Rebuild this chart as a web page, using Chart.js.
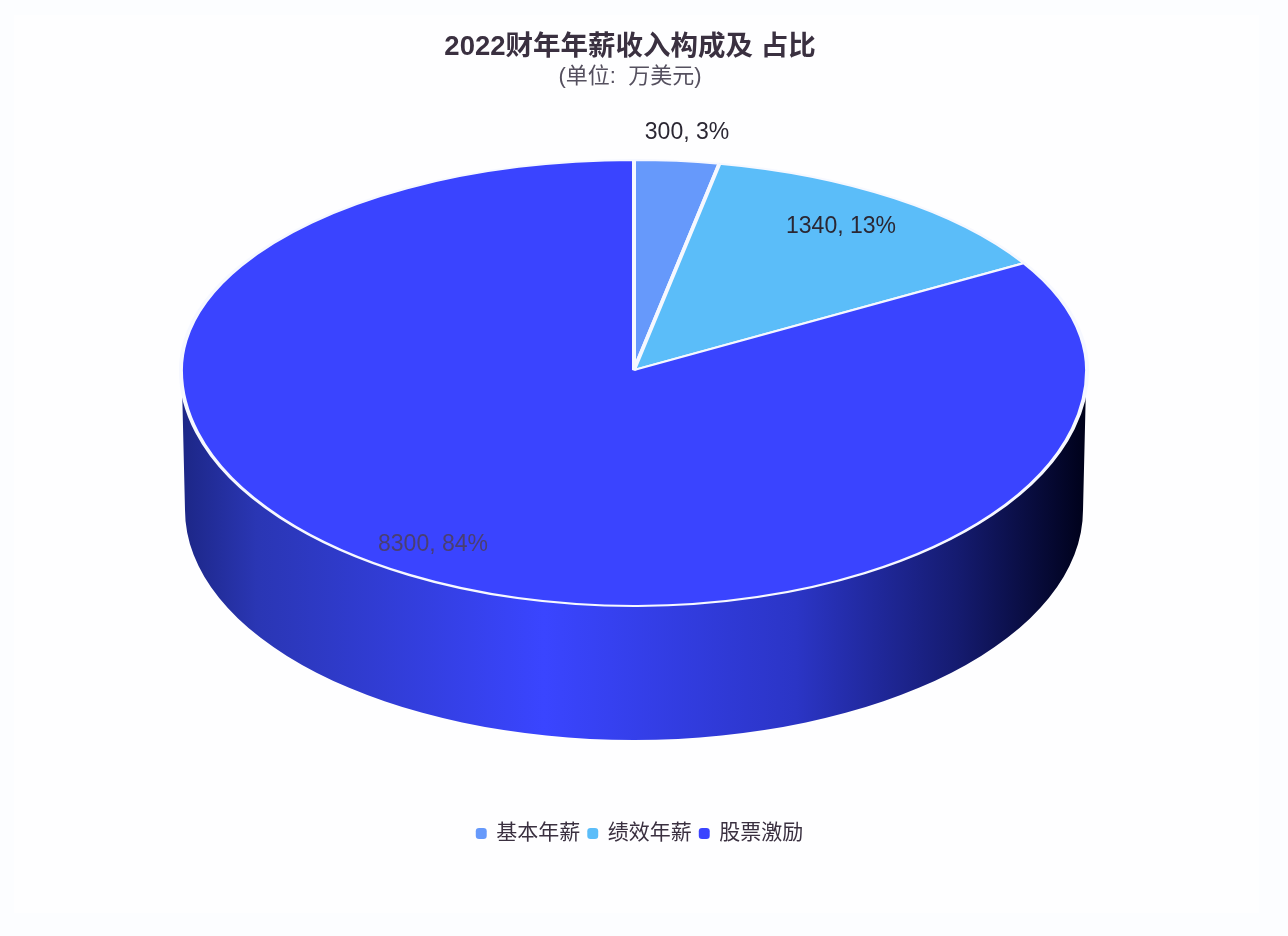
<!DOCTYPE html>
<html>
<head>
<meta charset="utf-8">
<title>2022财年年薪收入构成及占比</title>
<script src="https://cdn.jsdelivr.net/npm/chart.js@4/dist/chart.umd.min.js"></script>
<style>
    body { margin: 0; background: #fcfdff; }
    canvas { display: block; }
</style>
</head>
<body>
<canvas id="payChart" width="1288" height="936"></canvas>
<script>
// Data
const categories = ['基本年薪', '绩效年薪', '股票激励'];
const payValues = [300, 1340, 8300];
const sliceColors = ['#6699fb', '#5bbdf9', '#3a44ff'];

// Where the value labels sit, as [x, y] on the page
const labelSpots = [[687, 133], [841, 227], [433, 545]];
const labelColors = ['#2b2733', '#2b2733', '#4a3f70'];

// The fake 3D look: flat pie squashed around an apex, plus a side wall
const apex = { x: 634, y: 370 };
const pieRadius = 453;
const squashTop = 210 / pieRadius;
const squashBottom = 236 / pieRadius;
const wall = { cy: 510, rx: 449, ry: 230 };

const fontStack = '"Liberation Sans", "Noto Sans CJK SC", sans-serif';
const total = payValues.reduce((a, b) => a + b, 0);

const pagePlugin = {
    id: 'page',
    beforeDraw(chart) {
        const ctx = chart.ctx;
        ctx.save();
        ctx.fillStyle = '#fcfdff';
        ctx.fillRect(0, 0, chart.width, chart.height);
        ctx.fillStyle = '#fefeff';
        ctx.fillRect(14, 15, 1245, 898);
        ctx.restore();
    }
};

function drawWall(ctx) {
    const grad = ctx.createLinearGradient(apex.x - wall.rx, 0, apex.x + wall.rx, 0);
    grad.addColorStop(0, '#1d2788');
    grad.addColorStop(0.08, '#2a36b4');
    grad.addColorStop(0.4, '#3a45ff');
    grad.addColorStop(0.68, '#2b35c6');
    grad.addColorStop(0.86, '#151b70');
    grad.addColorStop(1, '#00021c');

    ctx.save();
    ctx.beginPath();
    ctx.moveTo(apex.x - pieRadius + 1, apex.y + 15);
    ctx.lineTo(apex.x - wall.rx, wall.cy);
    ctx.ellipse(apex.x, wall.cy, wall.rx, wall.ry, 0, Math.PI, 0, true);
    ctx.lineTo(apex.x + pieRadius - 1, apex.y + 15);
    ctx.closePath();
    ctx.fillStyle = grad;
    ctx.fill();
    ctx.restore();
}

function drawValueLabels(ctx) {
    ctx.save();
    ctx.font = '23px ' + fontStack;
    ctx.textAlign = 'center';
    ctx.textBaseline = 'middle';
    payValues.forEach((v, i) => {
        const pct = Math.round(v / total * 100);
        ctx.fillStyle = labelColors[i];
        ctx.fillText(v + ', ' + pct + '%', labelSpots[i][0], labelSpots[i][1]);
    });
    ctx.restore();
}

const pie3dPlugin = {
    id: 'pie3d',
    afterLayout(chart) {
        // legend sits a little right of the title in the original
        chart.legend.left += 10;
        chart.legend.right += 10;
    },
    beforeDatasetsDraw(chart) {
        const ctx = chart.ctx;
        const meta = chart.getDatasetMeta(0);
        const arc = meta.data[0];
        drawWall(ctx);

        // top half and bottom half get different squash, apex is above the ellipse middle
        const halves = [
            { y: 0, h: apex.y, k: squashTop },
            { y: apex.y, h: chart.height - apex.y, k: squashBottom }
        ];
        halves.forEach(half => {
            ctx.save();
            ctx.beginPath();
            ctx.rect(0, half.y, chart.width, half.h);
            ctx.clip();
            ctx.translate(apex.x, apex.y);
            ctx.scale(1, half.k);
            ctx.translate(-arc.x, -arc.y);
            meta.controller.draw();
            ctx.restore();
        });
        drawValueLabels(ctx);
        return false;
    }
};

new Chart(document.getElementById('payChart'), {
    type: 'pie',
    data: {
        labels: categories,
        datasets: [{
            data: payValues,
            backgroundColor: sliceColors,
            borderColor: '#f6f8ff',
            borderWidth: 4,
            radius: pieRadius,
            clip: false
        }]
    },
    options: {
        responsive: false,
        animation: false,
        layout: { padding: { right: 28, bottom: 82 } },
        plugins: {
            title: {
                display: true,
                text: '2022财年年薪收入构成及 占比',
                color: '#3a3040',
                font: { size: 27.5, weight: 'bold', family: fontStack },
                padding: { top: 31, bottom: 0 }
            },
            subtitle: {
                display: true,
                text: '(单位:  万美元)',
                color: '#55505f',
                font: { size: 22, family: fontStack },
                padding: 0
            },
            legend: {
                position: 'bottom',
                labels: {
                    usePointStyle: true,
                    pointStyle: 'rectRounded',
                    boxWidth: 9,
                    boxHeight: 9,
                    padding: 8,
                    color: '#3a3040',
                    font: { size: 21, family: fontStack },
                    generateLabels(chart) {
                        return Chart.overrides.pie.plugins.legend.labels.generateLabels(chart)
                            .map(item => ({ ...item, lineWidth: 0 }));
                    }
                }
            },
            tooltip: { enabled: false }
        }
    },
    plugins: [pagePlugin, pie3dPlugin]
});
</script>
</body>
</html>
